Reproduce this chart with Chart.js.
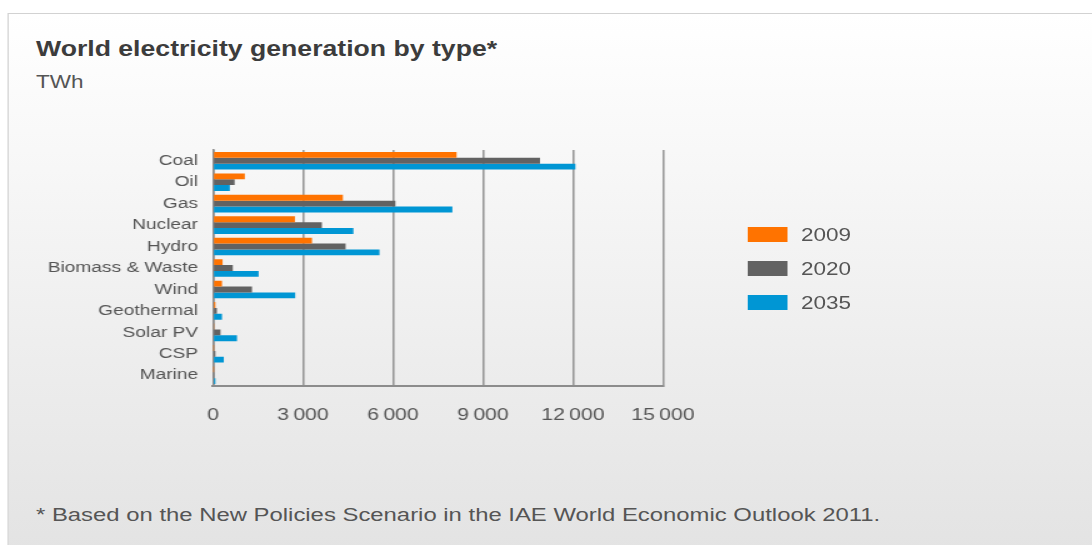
<!DOCTYPE html>
<html lang="en">
<head>
    <meta charset="UTF-8">
    <title>World electricity generation by type</title>
    <script src="https://cdn.jsdelivr.net/npm/chart.js"></script>
    <style>
        body {
            margin: 0;
            background: #fff;
            overflow: hidden;
            font-family: "Liberation Sans", Arial, sans-serif;
        }
        /* the original is stretched sideways, so the whole stage is too */
        #stage {
            position: absolute;
            left: 0;
            top: 0;
            width: 874px;
            height: 545px;
            transform: scaleX(1.25);
            transform-origin: 0 0;
        }
        .card {
            position: absolute;
            left: 5.6px;
            top: 13px;
            width: 900px;
            height: 560px;
            border: 1.6px solid #d2d2d2;
            background: linear-gradient(#ffffff, #e2e2e2);
        }
        .title {
            position: absolute;
            left: 28.8px;
            top: 39px;
            font-size: 21.3px;
            line-height: 1;
            font-weight: bold;
            color: #3c3c3c;
            white-space: nowrap;
        }
        .unit {
            position: absolute;
            left: 28.8px;
            top: 73px;
            font-size: 18px;
            line-height: 1;
            color: #555;
        }
        .note {
            position: absolute;
            left: 28.8px;
            top: 505px;
            font-size: 19.1px;
            line-height: 1;
            color: #555;
            white-space: nowrap;
        }
        #chart {
            position: absolute;
            left: 0;
            top: 130px;
        }
        .legend-item {
            position: absolute;
            left: 597.6px;
            height: 15px;
        }
        .legend-item span.box {
            position: absolute;
            left: 0;
            top: 0;
            width: 32px;
            height: 15px;
        }
        .legend-item span.label {
            position: absolute;
            left: 43.2px;
            top: -1px;
            font-size: 18px;
            line-height: 18px;
            color: #555;
            white-space: nowrap;
        }
    </style>
</head>
<body>
    <div id="stage">
        <div class="card"></div>
        <div class="title">World electricity generation by type*</div>
        <div class="unit">TWh</div>
        <canvas id="chart" width="600" height="300"></canvas>
        <div id="legend"></div>
        <div class="note">* Based on the New Policies Scenario in the IAE World Economic Outlook 2011.</div>
    </div>
    <script>
        const categories = ['Coal', 'Oil', 'Gas', 'Nuclear', 'Hydro', 'Biomass & Waste',
            'Wind', 'Geothermal', 'Solar PV', 'CSP', 'Marine'];
        const years = ['2009', '2020', '2035'];
        const gen2009 = [8120, 1060, 4330, 2730, 3300, 320, 300, 80, 20, 5, 2];
        const gen2020 = [10900, 720, 6080, 3630, 4420, 660, 1300, 130, 250, 80, 10];
        const gen2035 = [12080, 560, 7980, 4680, 5550, 1520, 2740, 300, 800, 360, 80];
        const xTicks = [0, 3000, 6000, 9000, 12000, 15000];
        const tickLabels = ['0', '3\u2009000', '6\u2009000', '9\u2009000', '12\u2009000', '15\u2009000'];
        const colors = ['#ff7300', '#626262', '#0096d4'];

        const series = [gen2009, gen2020, gen2035];
        const datasets = years.map((y, i) => ({
            label: y,
            data: series[i],
            backgroundColor: colors[i],
            borderWidth: 0,
            categoryPercentage: 0.82,
            barPercentage: 1.0
        }));

        const font = 'Liberation Sans, Arial, sans-serif';

        new Chart(document.getElementById('chart').getContext('2d'), {
            type: 'bar',
            data: {
                labels: categories,
                datasets: datasets
            },
            options: {
                indexAxis: 'y',
                responsive: false,
                animation: false,
                devicePixelRatio: 1,
                layout: {
                    padding: { top: 20, right: 69.6, bottom: 0, left: 0 }
                },
                scales: {
                    x: {
                        min: 0,
                        max: 15000,
                        afterBuildTicks: s => { s.ticks = xTicks.map(v => ({ value: v })); },
                        afterFit: s => { s.height = 44; },
                        ticks: {
                            padding: 19,
                            color: '#555',
                            font: { family: font, size: 17 },
                            maxRotation: 0,
                            autoSkip: false,
                            callback: v => tickLabels[xTicks.indexOf(v)]
                        },
                        grid: {
                            color: '#999',
                            lineWidth: 1.6,
                            drawTicks: false
                        },
                        border: { display: true, color: '#8c8c8c', width: 2 }
                    },
                    y: {
                        afterFit: s => { s.width = 170.4; },
                        ticks: {
                            padding: 12,
                            color: '#555',
                            autoSkip: false,
                            font: { family: font, size: 15.3, lineHeight: 1 }
                        },
                        grid: { display: false, drawTicks: false },
                        border: { display: true, color: '#8c8c8c', width: 1.6 }
                    }
                },
                plugins: {
                    legend: { display: false },
                    tooltip: { enabled: false }
                }
            }
        });

        // legend on the right, built from the same series names and colours
        const legendTops = [226.5, 260.5, 294.5];
        const legend = document.getElementById('legend');
        years.forEach((y, i) => {
            const item = document.createElement('div');
            item.className = 'legend-item';
            item.style.top = legendTops[i] + 'px';
            item.innerHTML = '<span class="box" style="background:' + colors[i] + '"></span>' +
                '<span class="label">' + y + '</span>';
            legend.appendChild(item);
        });
    </script>
</body>
</html>
